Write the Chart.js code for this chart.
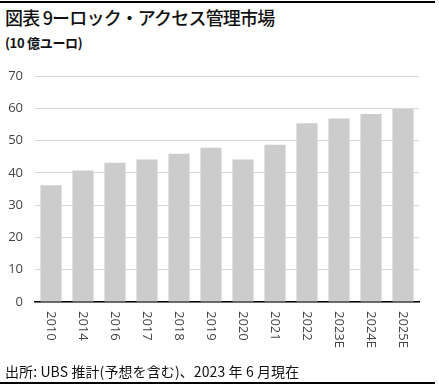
<!DOCTYPE html>
<html>
<head>
<meta charset="utf-8">
<script src="https://cdn.jsdelivr.net/npm/chart.js@4"></script>
<style>
  html, body { margin: 0; padding: 0; background: #fff; }
  body { width: 439px; height: 387px; position: relative; overflow: hidden;
         font-family: "Noto Sans CJK JP", "Open Sans", sans-serif; color: #111; }
  #chart { position: absolute; left: 0; top: 0; }
  .rule { position: absolute; left: 0; width: 435px; background: #000; }
  #title { position: absolute; left: 5px; top: 4px; font-size: 18px; font-weight: 500; letter-spacing: -0.8px; }
  #unit { position: absolute; left: 5px; top: 33px; font-size: 13px; font-weight: 700; letter-spacing: -0.3px; }
  #source { position: absolute; left: 5px; top: 361px; font-size: 14px; letter-spacing: 0.1px; }
</style>
</head>
<body>
<div class="rule" style="top:1px;height:2px"></div>
<div id="title">図表 9ーロック・アクセス管理市場</div>
<div id="unit">(10 億ユーロ)</div>
<canvas id="chart" width="439" height="387"></canvas>
<div id="source">出所: UBS 推計(予想を含む)、2023 年 6 月現在</div>
<div class="rule" style="top:382px;height:1.5px"></div>
<script>
// 年次（E = 予想）
const years = ['2010', '2014', '2016', '2017', '2018', '2019', '2020', '2021', '2022', '2023E', '2024E', '2025E'];
// 市場規模（10億ユーロ）
const marketSize = [36.2, 40.7, 43.1, 44.1, 45.9, 47.8, 44.1, 48.7, 55.4, 56.8, 58.2, 59.8];
const yTicks = [0, 10, 20, 30, 40, 50, 60, 70];

// 縦書き（時計回り90度）のx軸ラベル
const verticalLabels = {
  id: 'verticalLabels',
  afterDraw(chart) {
    const ctx = chart.ctx;
    const xScale = chart.scales.x;
    ctx.save();
    ctx.font = '13px "Open Sans", sans-serif';
    ctx.fillStyle = '#444';
    ctx.textAlign = 'left';
    ctx.textBaseline = 'middle';
    years.forEach((label, i) => {
      const x = xScale.getPixelForTick(i);
      ctx.save();
      ctx.translate(x, chart.chartArea.bottom + 9);
      ctx.rotate(Math.PI / 2);
      ctx.fillText(label, 0, 0);
      ctx.restore();
    });
    ctx.restore();
  }
};

new Chart(document.getElementById('chart'), {
  type: 'bar',
  data: {
    labels: years,
    datasets: [{
      data: marketSize,
      backgroundColor: '#cccccc',
      categoryPercentage: 1,
      barPercentage: 0.66
    }]
  },
  options: {
    responsive: false,
    animation: false,
    layout: { padding: { top: 76, left: 0, right: 20, bottom: 30 } },
    plugins: { legend: { display: false }, tooltip: { enabled: false } },
    scales: {
      x: {
        grid: { display: false },
        border: { color: '#000', width: 1.5 },
        ticks: { display: false },
        afterFit: s => { s.height = 55; }
      },
      y: {
        min: 0,
        max: 70,
        afterBuildTicks: s => { s.ticks = yTicks.map(v => ({ value: v })); },
        grid: { color: '#d9d9d9', lineWidth: 1, drawTicks: false },
        border: { display: false },
        ticks: { padding: 12, color: '#444', font: { family: '"Open Sans", sans-serif', size: 13 } },
        afterFit: s => { s.width = 35; }
      }
    }
  },
  plugins: [verticalLabels]
});
</script>
</body>
</html>
